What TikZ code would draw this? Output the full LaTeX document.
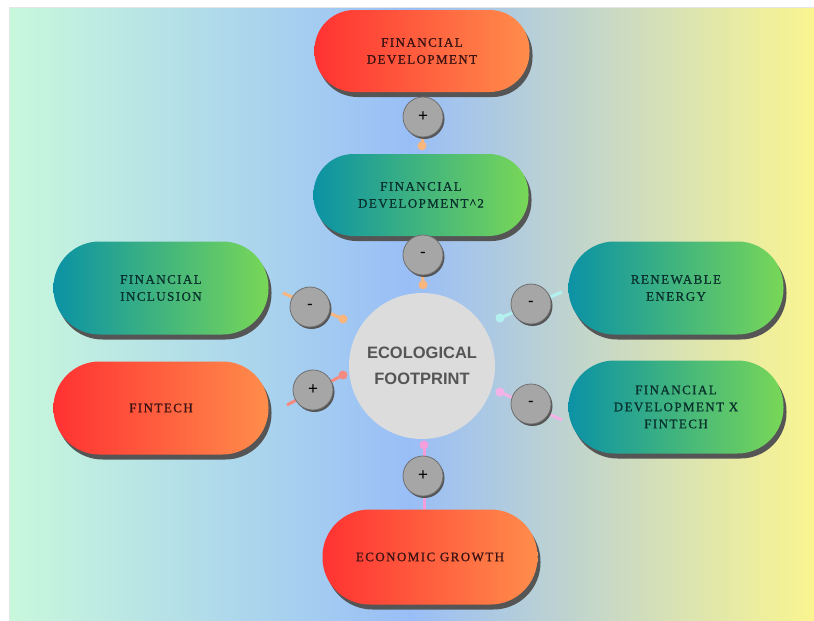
\documentclass[tikz,border=0pt]{standalone}
\usepackage{fontspec}
\setmainfont{Liberation Serif}
\newfontfamily\pillfont[LetterSpace=11,FakeBold=0.8]{Liberation Serif}
\newfontfamily\efont{Liberation Sans}
\usetikzlibrary{shadows,calc}
\definecolor{bgmint}{HTML}{C8F8DC}
\definecolor{bgblue}{HTML}{99BEF7}
\definecolor{bgyellow}{HTML}{FAF590}
\definecolor{redL}{HTML}{FF3232}
\definecolor{redR}{HTML}{FF8D4B}
\definecolor{grnL}{HTML}{0B92A5}
\definecolor{grnR}{HTML}{78D757}
\definecolor{redtext}{HTML}{3A1212}
\definecolor{grntext}{HTML}{08302C}
\definecolor{shadowgray}{HTML}{555555}
\definecolor{signfill}{HTML}{A6A6A6}
\definecolor{signedge}{HTML}{707070}
\definecolor{efill}{HTML}{DCDCDC}
\definecolor{etext}{HTML}{555555}
\definecolor{peach}{HTML}{F9B57E}
\definecolor{salmon}{HTML}{F58A80}
\definecolor{cyanl}{HTML}{B3F1F1}
\definecolor{pinkl}{HTML}{F5B2E6}
\definecolor{pinkm}{HTML}{F59EDC}
\pgfdeclarelayer{back}
\pgfdeclarelayer{links}
\pgfsetlayers{back,links,main}
\begin{document}
\begin{tikzpicture}[x=1pt,y=-1pt,
  pill/.style={rectangle, rounded corners=40pt, minimum width=215pt, minimum height=82pt,
    align=center, inner sep=0pt, font=\pillfont\fontsize{13}{17}\selectfont,
    drop shadow={shadow xshift=3pt,shadow yshift=-5pt,fill=shadowgray,opacity=1}},
  tallpill/.style={minimum height=93pt, rounded corners=46pt},
  redpill/.style={pill, left color=redL, right color=redR, text=redtext},
  grnpill/.style={pill, left color=grnL, right color=grnR, text=grntext},
  sign/.style={circle, minimum size=40pt, inner sep=0pt, fill=signfill, draw=signedge,
    line width=0.8pt, font=\efont\fontsize{17}{17}\selectfont,
    drop shadow={shadow xshift=1.5pt, shadow yshift=-2pt, fill=shadowgray, opacity=1}},
  link/.style={line width=3pt},
  tipdot/.style={circle, minimum size=9pt, inner sep=0pt}
]
\useasboundingbox (0,0) rectangle (814,621);
\begin{pgfonlayer}{back}
\fill[white] (0,0) rectangle (814,621);
\shade[left color=bgmint, right color=bgblue] (9,7) rectangle (410.5,621);
\shade[left color=bgblue, right color=bgyellow] (410,7) rectangle (814,621);
\draw[black!10, line width=1pt] (9,621) -- (9,7) -- (814,7);
\end{pgfonlayer}

% main boxes
\node[redpill] (fd) at (422,51) {FINANCIAL\\DEVELOPMENT};
\node[grnpill] (fd2) at (421,195) {FINANCIAL\\DEVELOPMENT\textasciicircum 2};
\node[grnpill, tallpill] (fi) at (161,288) {FINANCIAL\\INCLUSION};
\node[redpill, tallpill] (ft) at (161,408) {FINTECH};
\node[grnpill, tallpill] (re) at (676,288) {RENEWABLE\\ENERGY};
\node[grnpill, tallpill] (fdx) at (676,407) {FINANCIAL\\DEVELOPMENT X\\FINTECH};
\node[redpill, minimum height=95pt, rounded corners=47pt] (eg) at (430,557) {ECONOMIC GROWTH};
\node[circle, fill=efill, minimum size=146pt, inner sep=0pt, align=center,
  font=\efont\bfseries\fontsize{16.5}{26}\selectfont, text=etext] (ef) at (422,366) {ECOLOGICAL\\FOOTPRINT};

% connector ends
\coordinate (t1a) at (fd.south);
\coordinate (t1b) at ($(fd2.north)+(1,-8)$);
\coordinate (t2a) at (fd2.south);
\coordinate (t2b) at ($(ef.north)+(1,-8)$);
\coordinate (fia) at (283,293);
\coordinate (fib) at (343,319);
\coordinate (fta) at (287,405);
\coordinate (ftb) at (343,375);
\coordinate (rea) at (562,292);
\coordinate (reb) at (500,318);
\coordinate (fxa) at (562,420);
\coordinate (fxb) at (500,392);
\coordinate (ega) at (424,445);
\coordinate (egb) at (424,510);

\begin{pgfonlayer}{links}
\draw[link, peach] (t1a) -- (t1b) node[tipdot, fill=peach] (d1) {};
\draw[link, peach] (t2a) -- (t2b) node[tipdot, fill=peach] (d2) {};
\draw[link, peach] (fia) -- (fib) node[tipdot, fill=peach] (d3) {};
\draw[link, salmon] (fta) -- (ftb) node[tipdot, fill=salmon] (d4) {};
\draw[link, cyanl] (rea) -- (reb) node[tipdot, fill=cyanl] (d5) {};
\draw[link, pinkl] (fxa) -- (fxb) node[tipdot, fill=pinkl] (d6) {};
\draw[link, pinkm] (egb) -- (ega) node[tipdot, fill=pinkm] (d7) {};
\end{pgfonlayer}

% signs
\node[sign] (s1) at (423,117) {+};
\node[sign] (s2) at (423,255) {-};
\node[sign] (s3) at (310,307) {-};
\node[sign] (s4) at (313,390) {+};
\node[sign] (s5) at (531,304) {-};
\node[sign] (s6) at (531,404) {-};
\node[sign] (s7) at (423,476) {+};
\end{tikzpicture}
\end{document}
